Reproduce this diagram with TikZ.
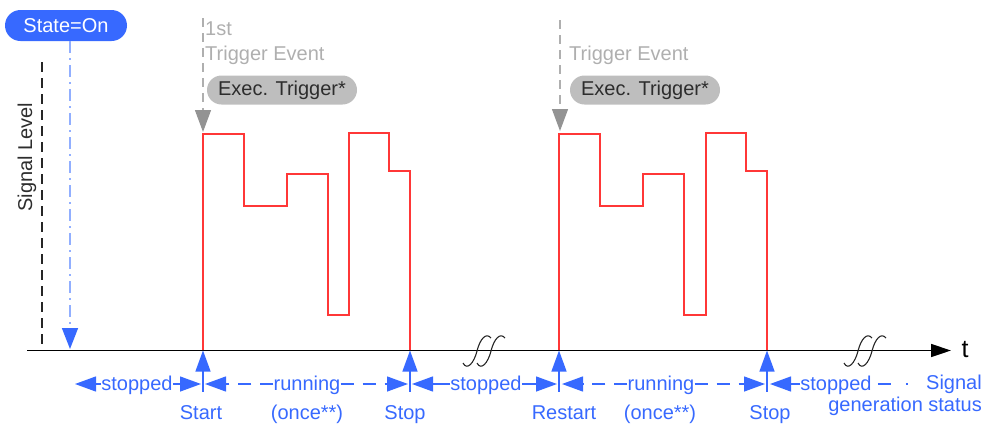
\documentclass[tikz,border=0pt]{standalone}
\usepackage{fontspec}
\setmainfont{Liberation Sans}
\usetikzlibrary{arrows.meta,shapes.misc}
\definecolor{myblue}{RGB}{55,105,255}
\definecolor{lightblue}{RGB}{145,175,255}
\definecolor{trgray}{RGB}{175,175,175}
\definecolor{pillgray}{RGB}{190,190,190}
\definecolor{darktext}{RGB}{45,45,45}
\definecolor{sigred}{RGB}{255,55,55}
\tikzset{
  bl/.style={myblue, line width=1.3pt},
  btip/.style={-{Triangle[length=21pt,width=15pt]}},
  lbl/.style={text=myblue, inner sep=0pt, anchor=base},
  pill/.style={rounded rectangle, inner sep=0pt},
  trtext/.style={text=trgray, inner sep=0pt, anchor=base west},
  trarrow/.style={trgray, line width=1.3pt, dash pattern=on 9pt off 6pt,
    -{Triangle[length=22pt,width=16pt,color=gray!85]}},
  brk/.pic={
    \draw[line width=1.1pt, black!85] (-14,12) .. controls (-10,20) and (-3,12) .. (0,0)
      .. controls (3,-12) and (9,-19) .. (14,-13);
    \draw[line width=1.1pt, black!85] (0,12) .. controls (4,20) and (11,12) .. (14,0)
      .. controls (17,-12) and (23,-19) .. (28,-13);
  }
}
\begin{document}
\begin{tikzpicture}[x=1pt,y=-1pt,font=\fontsize{20}{24}\selectfont]
\useasboundingbox (0,0) rectangle (993,426);

% axis points
\coordinate (ax0) at (27,350.5);
\coordinate (axE) at (951,350.5);
\coordinate (pStart) at (203,350.5);
\coordinate (pStop1) at (410,350.5);
\coordinate (pRestart) at (559,350.5);
\coordinate (pStop2) at (767,350.5);
\coordinate (yrow) at (0,384);

% red signal
\draw[sigred, line width=1.4pt] (pStart) -- (203,134) -- (244,134) -- (244,206) -- (287,206)
  -- (287,174) -- (328,174) -- (328,315) -- (349,315) -- (349,133) -- (389,133)
  -- (389,171) -- (410,171) -- (pStop1);
\draw[sigred, line width=1.4pt] (pRestart) -- (559,134) -- (600,134) -- (600,206) -- (643,206)
  -- (643,174) -- (684,174) -- (684,315) -- (706,315) -- (706,133) -- (746,133)
  -- (746,171) -- (767,171) -- (pStop2);

% vertical dashed axis
\coordinate (vTop) at (42,62);
\coordinate (vBot) at (42,350.5);
\draw[black!85, line width=1.4pt, dash pattern=on 10pt off 6pt] (vTop) -- (vBot);
\node[text=darktext, rotate=90, anchor=base, inner sep=0pt] (siglvl) at (32,157) {Signal Level};

% time axis
\draw[black, line width=1.4pt, -{Triangle[length=20pt,width=13pt]}] (ax0) -- (axE);
\node[font=\fontsize{25}{28}\selectfont, anchor=base, inner sep=0pt] (t) at (965,357) {t};
\pic at (477,351) {brk};
\pic at (858,351) {brk};

% State=On
\node[pill, fill=myblue, text=white, minimum width=122pt, minimum height=31pt] (state) at (66,25.5) {State=On};
\coordinate (sOnTop) at (70,41);
\coordinate (sOnBot) at (70,349);
\draw[lightblue, line width=1.6pt, dash pattern=on 12pt off 5pt on 2pt off 5pt,
  -{Triangle[length=21pt,width=16pt,color=myblue]}] (sOnTop) -- (sOnBot);

% trigger events
\coordinate (tr1a) at (203,18);
\coordinate (tr1b) at (203,132);
\coordinate (tr2a) at (560,20);
\coordinate (tr2b) at (560,131);
\draw[trarrow] (tr1a) -- (tr1b);
\draw[trarrow] (tr2a) -- (tr2b);
\node[trtext] (first) at (205,35) {1st};
\node[trtext] (te1) at (205,60) {Trigger Event};
\node[trtext] (te2) at (569,60) {Trigger Event};
\node[pill, fill=pillgray, text=darktext, minimum width=150pt, minimum height=29pt] (ex1) at (282,90) {Exec. Trigger*};
\node[pill, fill=pillgray, text=darktext, minimum width=150pt, minimum height=29pt] (ex2) at (645,90) {Exec. Trigger*};

% up arrows
\draw[bl, btip] ([yshift=-41pt]pStart) -- (pStart);
\draw[bl, btip] ([yshift=-41pt]pStop1) -- (pStop1);
\draw[bl, btip] ([yshift=-41pt]pRestart) -- (pRestart);
\draw[bl, btip] ([yshift=-41pt]pStop2) -- (pStop2);

% status row
\node[lbl] (st1) at (137,390) {stopped};
\coordinate (a1) at (75,384);
\coordinate (a2) at (201,384);
\draw[bl, btip] (st1.west |- yrow) -- (a1);
\draw[bl, btip] (st1.east |- yrow) -- (a2);

\node[lbl] (run1) at (307,390) {running};
\coordinate (a3) at (205,384);
\coordinate (a4) at (408,384);
\draw[bl, btip, dash pattern=on 13pt off 9pt] (run1.west |- yrow) -- (a3);
\draw[bl, btip, dash pattern=on 13pt off 9pt] (run1.east |- yrow) -- (a4);

\node[lbl] (st2) at (486,390) {stopped};
\coordinate (a5) at (412,384);
\coordinate (a6) at (557,384);
\draw[bl, btip] (st2.west |- yrow) -- (a5);
\draw[bl, btip] (st2.east |- yrow) -- (a6);

\node[lbl] (run2) at (661,390) {running};
\coordinate (a7) at (562,384);
\coordinate (a8) at (765,384);
\draw[bl, btip, dash pattern=on 13pt off 9pt] (run2.west |- yrow) -- (a7);
\draw[bl, btip, dash pattern=on 13pt off 9pt] (run2.east |- yrow) -- (a8);

\node[lbl] (st3) at (836,390) {stopped};
\coordinate (a9) at (770,384);
\coordinate (a10) at (910,384);
\draw[bl, btip] (st3.west |- yrow) -- (a9);
\draw[bl, dash pattern=on 0pt off 6pt on 13pt off 15pt on 2pt off 20pt] (st3.east |- yrow) -- (a10);

% lower labels
\node[lbl] (lStart) at (201,419) {Start};
\node[lbl] (once1) at (307,419) {(once**)};
\node[lbl] (lStop1) at (405,419) {Stop};
\node[lbl] (lRestart) at (564,419) {Restart};
\node[lbl] (once2) at (660,419) {(once**)};
\node[lbl] (lStop2) at (770,419) {Stop};
\node[lbl, anchor=base east] (sig1) at (982,389) {Signal};
\node[lbl, anchor=base east] (sig2) at (982,411) {generation status};
\end{tikzpicture}
\end{document}
